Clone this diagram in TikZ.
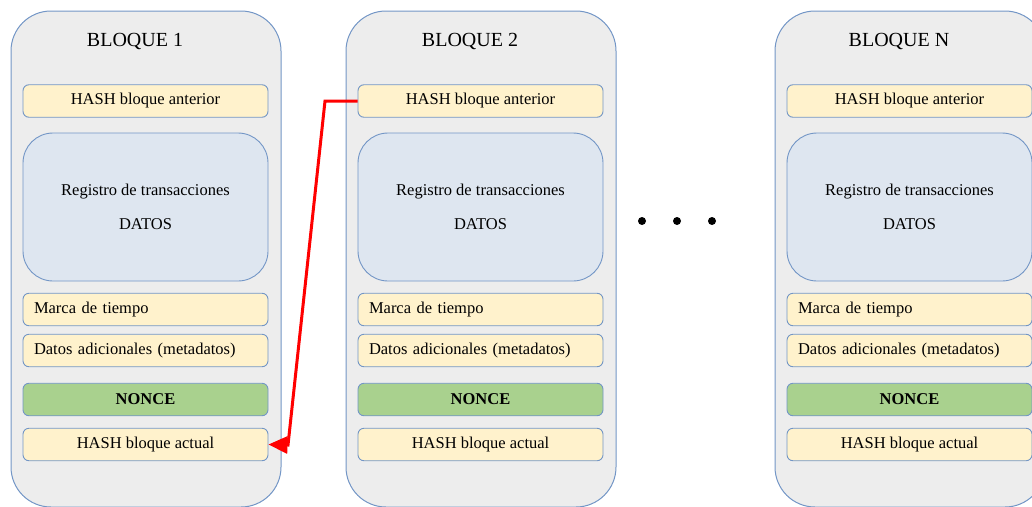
\documentclass[tikz,border=0pt]{standalone}
\usepackage{fontspec}
\setmainfont{Liberation Serif}
\usetikzlibrary{arrows.meta}
\definecolor{outerfill}{HTML}{EDEDED}
\definecolor{edgeblue}{HTML}{7396C6}
\definecolor{yel}{HTML}{FFF2CC}
\definecolor{regfill}{HTML}{DEE6F0}
\definecolor{grn}{HTML}{A9D18E}
\definecolor{arrowred}{HTML}{FF0000}
\tikzset{
  outerblk/.style={draw=edgeblue, fill=outerfill, rounded corners=40pt, minimum width=270pt, minimum height=496pt, line width=1pt, inner sep=0pt},
  blktitle/.style={font=\fontsize{20}{23}\selectfont, inner sep=0pt},
  field/.style={draw=edgeblue, fill=yel, rounded corners=6pt, minimum width=245pt, minimum height=32.5pt, line width=0.9pt, font=\fontsize{16.5}{19}\selectfont, inner sep=0pt},
  leftfield/.style={field, text width=223pt, inner xsep=11pt, align=left},
  regbox/.style={draw=edgeblue, fill=regfill, rounded corners=30pt, minimum width=245pt, minimum height=148pt, line width=0.9pt, font=\fontsize{16.5}{19}\selectfont, align=center, inner sep=0pt},
  noncebox/.style={field, fill=grn, font=\fontsize{16.5}{19}\selectfont\bfseries},
  linkarrow/.style={draw=arrowred, line width=3pt, -{Triangle[length=19pt,width=17pt]}},
  dotmark/.style={circle, fill=black, minimum size=8pt, inner sep=0pt}
}
\begin{document}
\begin{tikzpicture}[x=1pt, y=-1pt]
\useasboundingbox (0,0) rectangle (1032,506);
\clip (0,0) rectangle (1032,506);
\foreach \o/\t in {0/1, 335/2, 764/N} {
  \node[outerblk] (blk\t) at (\o+146,259) {};
  \node[blktitle] (title\t) at (\o+135,41) {BLOQUE \t};
  \node[field] (prev\t) at (\o+145.5,101) {HASH bloque anterior};
  \node[regbox] (reg\t) at (\o+145.5,207) {Registro de transacciones\\[15pt]DATOS};
  \node[leftfield] (marca\t) at (\o+145.5,309.5) {Marca de tiempo};
  \node[leftfield] (datos\t) at (\o+145.5,350.5) {Datos adicionales (metadatos)};
  \node[noncebox] (nonce\t) at (\o+145.5,399.5) {NONCE};
  \node[field] (cur\t) at (\o+145.5,444.5) {HASH bloque actual};
}
\coordinate (k1) at (325,101);
\coordinate (k2) at (288,445);
\draw[linkarrow, line join=miter] (prev2.west) -- (k1) -- (k2) -- (cur1.east);
\node[dotmark] (d1) at (642,221) {};
\node[dotmark] (d2) at (677,221) {};
\node[dotmark] (d3) at (712,221) {};
\end{tikzpicture}
\end{document}
